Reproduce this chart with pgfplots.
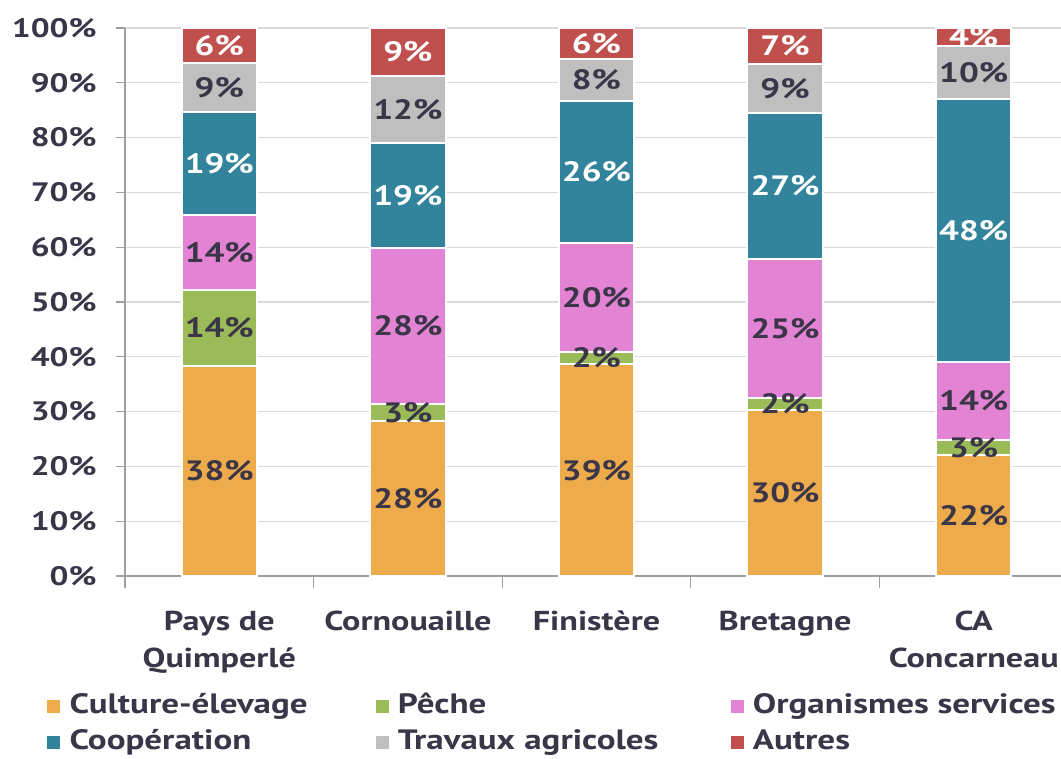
\documentclass[border=0pt]{standalone}
\usepackage{pgfplots}
\pgfplotsset{compat=1.18}
\usepackage{pgfplotstable}
\usepackage{fontspec}
\setmainfont[FakeStretch=1.25]{PT Sans}
\definecolor{txt}{HTML}{3B3548}
\definecolor{cult}{HTML}{EDAB4C}
\definecolor{peche}{HTML}{9BBB59}
\definecolor{orga}{HTML}{E283D3}
\definecolor{coop}{HTML}{31849B}
\definecolor{trav}{HTML}{BFBFBF}
\definecolor{autr}{HTML}{C0504D}

% values (%), columns: category index, share
\pgfplotstableread{
x v
0 38.3
1 28.3
2 38.6
3 30.3
4 22.1
}\culture
\pgfplotstableread{
x v
0 13.9
1 3.1
2 2.3
3 2.2
4 2.7
}\peche
\pgfplotstableread{
x v
0 13.7
1 28.4
2 19.9
3 25.3
4 14.2
}\orga
\pgfplotstableread{
x v
0 18.8
1 19.2
2 25.9
3 26.7
4 48.0
}\coop
\pgfplotstableread{
x v
0 8.9
1 12.2
2 7.7
3 8.9
4 9.7
}\trav
\pgfplotstableread{
x v
0 6.4
1 8.8
2 5.6
3 6.6
4 3.3
}\autres
% label positions (segment middles) and printed labels
\pgfplotstableread{
x y lab
0 19.15 38
0 45.25 14
0 59.05 14
0 89.15 9
1 14.15 28
1 29.85 3
1 45.6 28
1 85.1 12
2 19.3 39
2 39.75 2
2 50.85 20
2 90.55 8
3 15.15 30
3 31.4 2
3 45.15 25
3 88.95 9
4 11.05 22
4 23.45 3
4 31.9 14
4 91.85 10
}\labdark
\pgfplotstableread{
x y lab
0 75.3 19
0 96.8 6
1 69.4 19
1 95.6 9
2 73.75 26
2 97.2 6
3 71.15 27
3 96.7 7
4 63.0 48
4 98.35 4
}\labwhite

\newcommand{\chfont}{\fontsize{20}{24}\selectfont\bfseries}
\newcommand{\xlfont}{\fontsize{20.5}{28}\selectfont\bfseries}
\newcommand{\lbfont}{\fontsize{21}{24}\selectfont\bfseries}
\newcommand{\lgfont}{\fontsize{21}{24}\selectfont\bfseries}

\begin{document}
\begin{tikzpicture}[font=\chfont, text=txt]
\useasboundingbox (-93.75pt,-136.5pt) rectangle (702pt,432pt);
\pgfplotsset{
  base/.style={
    scale only axis, width=707.25pt, height=411pt,
    at={(0pt,0pt)}, anchor=south west,
    xmin=-0.5, xmax=4.5, ymin=0, ymax=100,
  }
}
\begin{axis}[base,
  ybar stacked, bar width=0.4,
  axis x line*=bottom, axis y line*=left,
  axis line style={color=gray!75, line width=1pt},
  tick style={color=gray!75, line width=1pt},
  tick align=outside,
  major tick length=6.75pt, minor tick length=9pt,
  xtick={0,1,2,3,4},
  xticklabels={{Pays de\\Quimperlé},Cornouaille,Finistère,Bretagne,{CA\\Concarneau}},
  xticklabel style={align=center, font=\xlfont, text=txt, yshift=-16pt},
  major x tick style={draw=none},
  minor xtick={-0.5,0.5,1.5,2.5,3.5},
  ytick={0,10,...,100},
  yticklabel={\pgfmathprintnumber{\tick}\%},
  yticklabel style={font=\chfont, text=txt, xshift=-11pt},
  /pgf/number format/assume math mode=true,
  ymajorgrids, grid style={color=gray!30, line width=0.9pt},
  legend columns=3,
  legend image code/.code={\fill[#1] (0pt,-5.6pt) rectangle (11.25pt,5.6pt);},
  legend style={at={(-0.0848,-0.2163)}, anchor=north west, draw=none, fill=none,
    inner sep=0pt, row sep=9pt, font=\lgfont, text=txt,
    cells={anchor=west},
    nodes={inner sep=0pt, text height=14pt, text depth=4pt},
    /tikz/every odd column/.style={column sep=5.5pt},
    /tikz/column 2/.style={text width=228pt},
    /tikz/column 4/.style={text width=248pt}},
  every axis plot/.append style={draw=white, line width=1.5pt},
]
\addplot[fill=cult] table[x=x,y=v]{\culture};
\addlegendentry{Culture-élevage}
\addplot[fill=peche] table[x=x,y=v]{\peche};
\addlegendentry{Pêche}
\addplot[fill=orga] table[x=x,y=v]{\orga};
\addlegendentry{Organismes services}
\addplot[fill=coop] table[x=x,y=v]{\coop};
\addlegendentry{Coopération}
\addplot[fill=trav] table[x=x,y=v]{\trav};
\addlegendentry{Travaux agricoles}
\addplot[fill=autr] table[x=x,y=v]{\autres};
\addlegendentry{Autres}
\end{axis}
\begin{axis}[base, hide axis, clip=false]
\addplot[draw=none, mark=none, nodes near coords={\pgfplotspointmeta\%},
  point meta=explicit symbolic,
  every node near coord/.append style={anchor=center, font=\lbfont, text=txt}]
  table[x=x,y=y,meta=lab]{\labdark};
\addplot[draw=none, mark=none, nodes near coords={\pgfplotspointmeta\%},
  point meta=explicit symbolic,
  every node near coord/.append style={anchor=center, font=\lbfont, text=white}]
  table[x=x,y=y,meta=lab]{\labwhite};
\end{axis}
\end{tikzpicture}
\end{document}
